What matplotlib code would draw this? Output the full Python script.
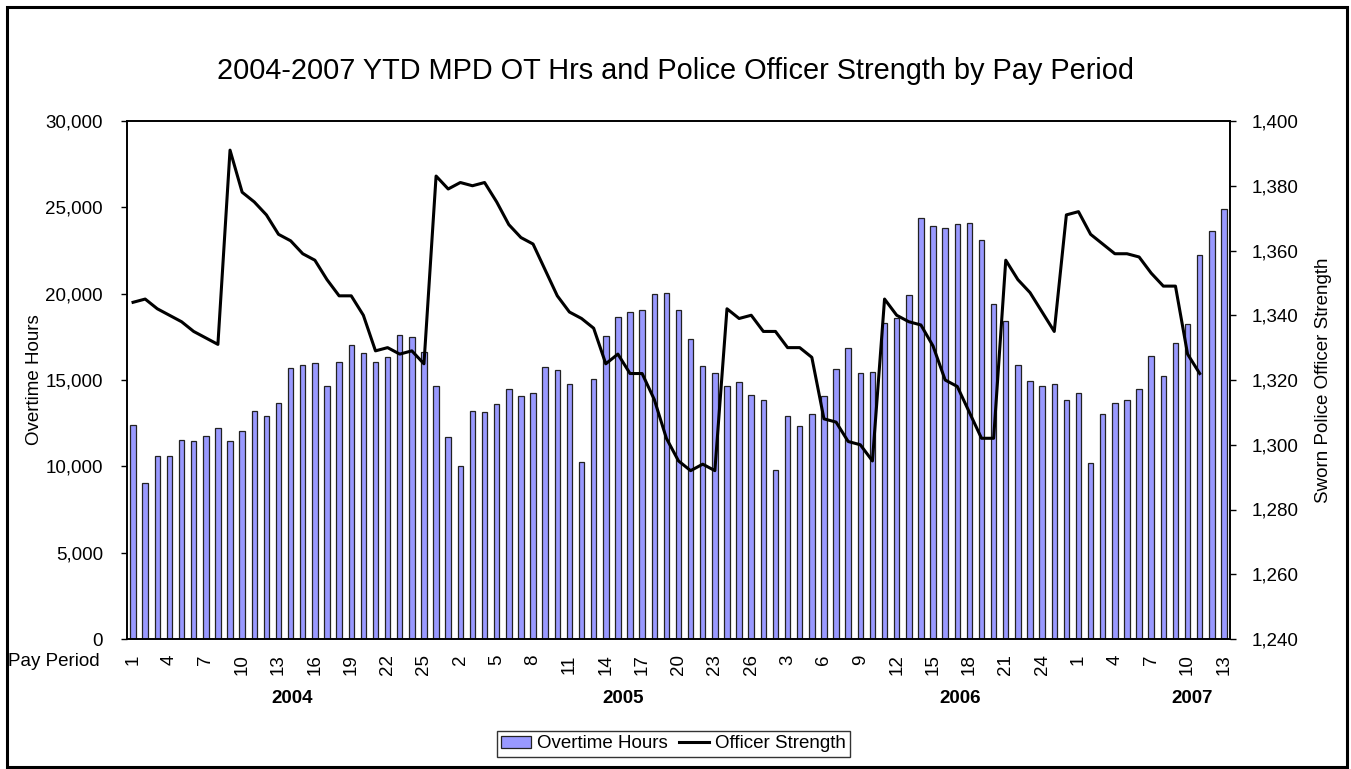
import matplotlib
matplotlib.use("Agg")
import matplotlib.pyplot as plt
from matplotlib.patches import Rectangle, Patch
from matplotlib.lines import Line2D
from matplotlib.ticker import FuncFormatter, MultipleLocator

plt.rcParams['font.family'] = ['Liberation Sans', 'DejaVu Sans']

# ---------------- data ----------------
years = ["2004", "2005", "2006", "2007"]
periods_2004 = list(range(1, 27))
periods_2005 = list(range(1, 27))
periods_2006 = list(range(1, 27))
periods_2007 = list(range(1, 14))
pay_periods = periods_2004 + periods_2005 + periods_2006 + periods_2007

overtime_2004 = [12380, 9040, 10600, 10580, 11520, 11460, 11780, 12240, 11460, 12060,
                 13200, 12900, 13680, 15720, 15860, 15980, 14640, 16060, 17040, 16580,
                 16040, 16320, 17580, 17480, 16600, 14660]
overtime_2005 = [11700, 10020, 13220, 13120, 13620, 14500, 14100, 14220, 15740, 15580,
                 14740, 10260, 15060, 17560, 18620, 18940, 19060, 20000, 20060, 19060,
                 17360, 15800, 15380, 14640, 14880, 14140]
overtime_2006 = [13860, 9800, 12900, 12340, 13020, 14100, 15640, 16860, 15400, 15460,
                 18300, 18580, 19920, 24380, 23900, 23800, 24060, 24120, 23080, 19400,
                 18440, 15860, 14960, 14640, 14760, 13840]
overtime_2007 = [14240, 10220, 13040, 13680, 13860, 14480, 16380, 15220, 17160, 18240,
                 22240, 23620, 24880]
overtime_hours = overtime_2004 + overtime_2005 + overtime_2006 + overtime_2007

strength_2004 = [1344, 1345, 1342, 1340, 1338, 1335, 1333, 1331, 1391, 1378,
                 1375, 1371, 1365, 1363, 1359, 1357, 1351, 1346, 1346, 1340,
                 1329, 1330, 1328, 1329, 1325, 1383]
strength_2005 = [1379, 1381, 1380, 1381, 1375, 1368, 1364, 1362, 1354, 1346,
                 1341, 1339, 1336, 1325, 1328, 1322, 1322, 1314, 1302, 1295,
                 1292, 1294, 1292, 1342, 1339, 1340]
strength_2006 = [1335, 1335, 1330, 1330, 1327, 1308, 1307, 1301, 1300, 1295,
                 1345, 1340, 1338, 1337, 1330.5, 1320, 1318, 1310, 1302, 1302,
                 1357, 1351, 1347, 1341, 1335, 1371]
strength_2007 = [1372, 1365, 1362, 1359, 1359, 1358, 1353, 1349, 1349, 1328, 1322]
officer_strength = strength_2004 + strength_2005 + strength_2006 + strength_2007

# year label positions (category index where each bold year label sits)
year_label_pos = [13.1, 40.4, 68.2, 87.4]

# ---------------- figure ----------------
W, H = 1351, 769
fig = plt.figure(figsize=(W / 100, H / 100), dpi=100)

# outer chart border
fig.patches.append(Rectangle((7 / W, 2 / H), (1347 - 7) / W, (762 - 2) / H,
                             transform=fig.transFigure, fill=False,
                             edgecolor='black', linewidth=2.2))

left, right, top, bottom = 127 / W, 1230 / W, 1 - 121 / H, 1 - 639 / H
ax = fig.add_axes([left, bottom, right - left, top - bottom])

x = list(range(len(overtime_hours)))
ax.bar(x, overtime_hours, width=0.45, color='#9999FF', edgecolor='#222222',
       linewidth=0.9, zorder=2)
ax.set_xlim(-0.5, len(overtime_hours) - 0.5)
ax.set_ylim(0, 30000)
ax.yaxis.set_major_locator(MultipleLocator(5000))
ax.yaxis.set_major_formatter(FuncFormatter(lambda v, p: f"{int(v):,}"))
ax.tick_params(axis='y', direction='out', length=4.3, width=1, pad=13, labelsize=13.5)

tick_idx = list(range(0, len(pay_periods), 3))
ax.set_xticks(tick_idx)
ax.set_xticklabels([str(pay_periods[i]) for i in tick_idx], rotation=90,
                   fontsize=13.5, va='top', ha='center')
ax.tick_params(axis='x', length=0, pad=11)

for sp in ax.spines.values():
    sp.set_linewidth(1.2)
    sp.set_color('black')

ax.set_ylabel("Overtime Hours", fontsize=13.5)
ax.yaxis.set_label_coords(-0.0763, 0.5)

ax2 = ax.twinx()
ax2.plot(list(range(len(officer_strength))), officer_strength, color='black',
         linewidth=2.2, zorder=3)
ax2.set_ylim(1240, 1400)
ax2.yaxis.set_major_locator(MultipleLocator(20))
ax2.yaxis.set_major_formatter(FuncFormatter(lambda v, p: f"{int(v):,}"))
ax2.tick_params(axis='y', direction='out', length=4.3, width=1, pad=11.5, labelsize=13.5)
ax2.set_ylabel("Sworn Police Officer Strength", fontsize=13.5)
ax2.yaxis.set_label_coords(1.077, 0.5)
for sp in ax2.spines.values():
    sp.set_linewidth(1.2)

# year labels
trans = ax.get_xaxis_transform()
for yr, pos in zip(years, year_label_pos):
    ax.text(pos, -0.114, yr, transform=trans, ha='center', va='center',
            fontsize=13.5, fontweight='bold')

fig.text(100 / W, 1 - 662 / H, "Pay Period", ha='right', va='center', fontsize=13.5)

fig.text(0.5, 1 - 71 / H,
         "2004-2007 YTD MPD OT Hrs and Police Officer Strength by Pay Period",
         ha='center', va='center', fontsize=20.8)

handles = [Patch(facecolor='#9999FF', edgecolor='#222222', linewidth=0.9),
           Line2D([0], [0], color='black', linewidth=2.2)]
leg = fig.legend(handles, ["Overtime Hours", "Officer Strength"], ncol=2,
                 loc='center', bbox_to_anchor=(673.5 / W, 1 - 744 / H),
                 fontsize=13.5, frameon=True, fancybox=False, shadow=False,
                 handlelength=1.6, handleheight=0.65, handletextpad=0.3,
                 columnspacing=0.6, borderpad=0.25, borderaxespad=0)
leg.get_frame().set_edgecolor('black')
leg.get_frame().set_linewidth(1.0)

fig.savefig("out.png", dpi=100)
